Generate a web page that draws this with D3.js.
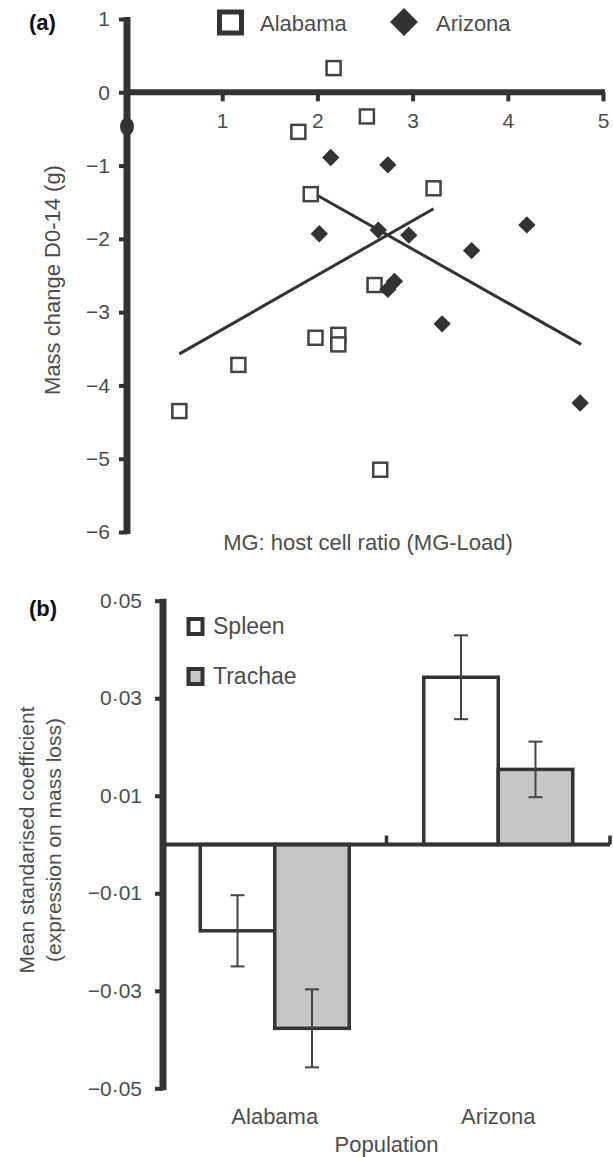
<!DOCTYPE html>
<html>
<head>
<meta charset="utf-8">
<script src="https://d3js.org/d3.v7.min.js"></script>
<style>
    body { margin: 0; background: #fff; }
    text { font-family: "Liberation Sans", Arial, sans-serif; fill: #4d4d4d; }
    .axis path, .axis line { stroke: #333; }
</style>
</head>
<body>
<div class="chart"></div>
<script>
// panel (a): scatter of mass change against MG load
var alabamaX = [0.55, 1.17, 1.80, 1.93, 1.98, 2.17, 2.22, 2.22, 2.52, 2.60, 2.66, 3.22];
var alabamaY = [-4.35, -3.72, -0.54, -1.39, -3.35, 0.33, -3.31, -3.44, -0.33, -2.63, -5.15, -1.31];
var arizonaX = [2.02, 2.14, 2.64, 2.74, 2.74, 2.81, 2.96, 3.31, 3.62, 4.20, 4.76];
var arizonaY = [-1.93, -0.89, -1.88, -0.99, -2.69, -2.58, -1.95, -3.16, -2.16, -1.81, -4.24];
var alabamaFit = [[0.55, -3.57], [3.22, -1.59]];
var arizonaFit = [[1.95, -1.37], [4.77, -3.44]];
var axisBlob = [[0, -0.47]];
var xTicksA = [1, 2, 3, 4, 5];
var yTicksA = [1, 0, -1, -2, -3, -4, -5, -6];

// panel (b): mean standardised coefficients
var populations = ["Alabama", "Arizona"];
var tissues = ["Spleen", "Trachae"];
var spleenMean = [-0.0177, 0.0343];
var spleenErr = [0.0073, 0.0086];
var trachaeMean = [-0.0377, 0.0154];
var trachaeErr = [0.0080, 0.0057];
var yTicksB = [0.05, 0.03, 0.01, -0.01, -0.03, -0.05];

var W = 613, H = 1157;
var ink = "#333";

var svg = d3.select(".chart").append("svg")
    .attr("width", W).attr("height", H);

function minus(v) {
    return v < 0 ? "\u2212" + Math.abs(v) : String(v);
}

/* ---------- panel (a) ---------- */
var x = d3.scaleLinear().domain([0, 5]).range([127, 603]);
var y = d3.scaleLinear().domain([1, -6]).range([19, 532]);

svg.append("text").attr("x", 29).attr("y", 30)
    .style("font-weight", "bold").style("fill", "#111").style("font-size", "22px")
    .text("(a)");

var yAxisA = svg.append("g").attr("class", "axis")
    .attr("transform", "translate(" + x(0) + ",0)")
    .call(d3.axisLeft(y).tickValues(yTicksA).tickFormat(minus).tickSize(8).tickSizeOuter(0).tickPadding(9));
yAxisA.select(".domain").attr("stroke-width", 7).attr("d", "M0," + (y(1) - 2) + "V" + (y(-6) + 2));
yAxisA.selectAll(".tick line").attr("stroke-width", 4);
yAxisA.selectAll(".tick text").style("font-size", "21px").attr("font-family", null);

var xAxisA = svg.append("g").attr("class", "axis")
    .attr("transform", "translate(0," + y(0) + ")")
    .call(d3.axisBottom(x).tickValues(xTicksA).tickFormat(d3.format("d")).tickSize(9).tickSizeOuter(0).tickPadding(12));
xAxisA.select(".domain").attr("stroke-width", 6).attr("d", "M" + x(0) + ",0H" + (x(5) + 2));
xAxisA.selectAll(".tick line").attr("stroke-width", 4);
xAxisA.selectAll(".tick text").style("font-size", "21px");

svg.selectAll(".blob").data(axisBlob).enter().append("ellipse")
    .attr("cx", function (d) { return x(d[0]); })
    .attr("cy", function (d) { return y(d[1]); })
    .attr("rx", 7).attr("ry", 9).attr("fill", ink);

var fitLine = d3.line()
    .x(function (d) { return x(d[0]); })
    .y(function (d) { return y(d[1]); });
[alabamaFit, arizonaFit].forEach(function (f) {
    svg.append("path").attr("d", fitLine(f))
        .attr("fill", "none").attr("stroke", ink).attr("stroke-width", 3);
});

svg.selectAll(".sq").data(alabamaX).enter().append("rect")
    .attr("x", function (d) { return x(d) - 7; })
    .attr("y", function (d, i) { return y(alabamaY[i]) - 7; })
    .attr("width", 14).attr("height", 14)
    .attr("fill", "#fff").attr("stroke", "#444").attr("stroke-width", 2.5);

var diamond = d3.symbol().type(d3.symbolSquare).size(150);
svg.selectAll(".dm").data(arizonaX).enter().append("path")
    .attr("d", diamond)
    .attr("transform", function (d, i) {
        return "translate(" + x(d) + "," + y(arizonaY[i]) + ") rotate(45)";
    })
    .attr("fill", ink);

// legend (a)
svg.append("rect").attr("x", 219.5).attr("y", 12).attr("width", 22).attr("height", 21)
    .attr("fill", "#fff").attr("stroke", ink).attr("stroke-width", 5);
svg.append("text").attr("x", 260).attr("y", 31).style("font-size", "22px").text("Alabama");
svg.append("path").attr("d", d3.symbol().type(d3.symbolSquare).size(390))
    .attr("transform", "translate(404,22) rotate(45)").attr("fill", ink);
svg.append("text").attr("x", 436).attr("y", 31).style("font-size", "22px").text("Arizona");

svg.append("text")
    .attr("transform", "translate(60,280) rotate(-90)")
    .attr("text-anchor", "middle").style("font-size", "22px")
    .text("Mass change D0-14 (g)");
svg.append("text").attr("x", 368).attr("y", 550)
    .attr("text-anchor", "middle").style("font-size", "22px")
    .text("MG: host cell ratio (MG-Load)");

/* ---------- panel (b) ---------- */
var xb = d3.scaleBand().domain(populations).range([163, 610]);
var xs = d3.scaleBand().domain(tissues).range([37.25, xb.bandwidth() - 37.25]);
var yb = d3.scaleLinear().domain([0.05, -0.05]).range([600.7, 1088.3]);

svg.append("text").attr("x", 29).attr("y", 616)
    .style("font-weight", "bold").style("fill", "#111").style("font-size", "22px")
    .text("(b)");

function fmtB(d) {
    var s = "0\u00b7" + String(Math.round(Math.abs(d) * 100)).padStart(2, "0");
    return d < 0 ? "\u2212" + s : s;
}

var yAxisB = svg.append("g").attr("class", "axis")
    .attr("transform", "translate(163,0)")
    .call(d3.axisLeft(yb).tickValues(yTicksB).tickFormat(fmtB).tickSize(8).tickSizeOuter(0).tickPadding(13));
yAxisB.select(".domain").attr("stroke-width", 7).attr("d", "M0," + (yb(0.05) - 2) + "V" + (yb(-0.05) + 2));
yAxisB.selectAll(".tick line").attr("stroke-width", 4);
yAxisB.selectAll(".tick text").style("font-size", "21px");

var rows = populations.map(function (p, i) {
    return [
        { pop: p, tissue: "Spleen", v: spleenMean[i], e: spleenErr[i] },
        { pop: p, tissue: "Trachae", v: trachaeMean[i], e: trachaeErr[i] }
    ];
});
var bars = [].concat.apply([], rows);

svg.selectAll(".bar").data(bars).enter().append("rect")
    .attr("x", function (d) { return xb(d.pop) + xs(d.tissue); })
    .attr("y", function (d) { return Math.min(yb(d.v), yb(0)); })
    .attr("width", xs.bandwidth())
    .attr("height", function (d) { return Math.abs(yb(d.v) - yb(0)); })
    .attr("fill", function (d) { return d.tissue === "Spleen" ? "#fff" : "#c6c6c9"; })
    .attr("stroke", ink).attr("stroke-width", 3.5);

var errs = svg.selectAll(".err").data(bars).enter().append("g")
    .attr("transform", function (d) {
        return "translate(" + (xb(d.pop) + xs(d.tissue) + xs.bandwidth() / 2) + ",0)";
    })
    .attr("stroke", "#444").attr("stroke-width", 2);
errs.append("line")
    .attr("y1", function (d) { return yb(d.v + d.e); })
    .attr("y2", function (d) { return yb(d.v - d.e); });
errs.append("line").attr("x1", -7).attr("x2", 7)
    .attr("y1", function (d) { return yb(d.v + d.e); })
    .attr("y2", function (d) { return yb(d.v + d.e); });
errs.append("line").attr("x1", -7).attr("x2", 7)
    .attr("y1", function (d) { return yb(d.v - d.e); })
    .attr("y2", function (d) { return yb(d.v - d.e); });

// zero line with ticks at the band edges
svg.append("line").attr("x1", 163).attr("x2", xb.range()[1])
    .attr("y1", yb(0)).attr("y2", yb(0))
    .attr("stroke", ink).attr("stroke-width", 4);
svg.selectAll(".btick").data(populations).enter().append("line")
    .attr("x1", function (d) { return xb(d) + xb.bandwidth(); })
    .attr("x2", function (d) { return xb(d) + xb.bandwidth(); })
    .attr("y1", yb(0)).attr("y2", yb(0) - 9)
    .attr("stroke", ink).attr("stroke-width", 3.5);

svg.selectAll(".cat").data(populations).enter().append("text")
    .attr("x", function (d) { return xb(d) + xb.bandwidth() / 2; })
    .attr("y", 1124).attr("text-anchor", "middle").style("font-size", "22px")
    .text(function (d) { return d; });
svg.append("text").attr("x", 386.5).attr("y", 1152)
    .attr("text-anchor", "middle").style("font-size", "22px").text("Population");

// legend (b)
tissues.forEach(function (t, i) {
    svg.append("rect").attr("x", 188.5).attr("y", 619 + i * 50).attr("width", 14).attr("height", 15)
        .attr("fill", t === "Spleen" ? "#fff" : "#c6c6c9")
        .attr("stroke", ink).attr("stroke-width", 4);
    svg.append("text").attr("x", 213).attr("y", 634 + i * 50)
        .style("font-size", "23px").text(t);
});

var ttl = svg.append("text")
    .attr("transform", "translate(34,840) rotate(-90)")
    .attr("text-anchor", "middle").style("font-size", "21px");
ttl.append("tspan").attr("x", 0).attr("dy", 0).text("Mean standarised coefficient");
ttl.append("tspan").attr("x", 0).attr("dy", 27).text("(expression on mass loss)");
</script>
</body>
</html>
